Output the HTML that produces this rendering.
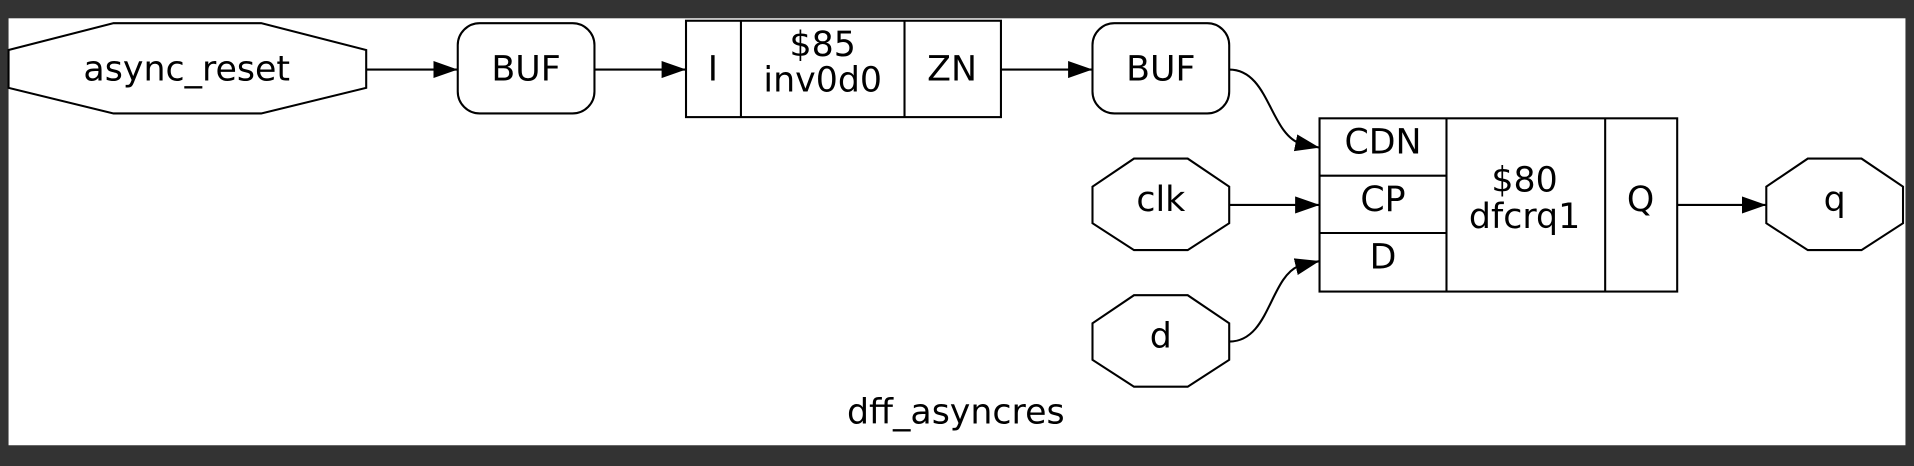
<!DOCTYPE html>
<html><head><style>html,body{margin:0;padding:0;background:#333;}svg{display:block}</style></head><body>
<svg width="1914" height="466" viewBox="0 0 1568 382" preserveAspectRatio="none" xmlns="http://www.w3.org/2000/svg">
<defs>
<marker id="b" markerWidth="20" markerHeight="14" refX="20" refY="7" orient="auto" markerUnits="userSpaceOnUse"><path d="M0,0 L20,7 L0,14 z" fill="#000"/></marker></defs>
<rect x="7" y="15" width="1554" height="350" fill="#fff"/>
<g fill="none" stroke="#000" stroke-width="1.7">
<polygon points="7,41 93,19 214,19 300,41 300,72 214,93 93,93 7,72" fill="#fff"/>
<rect x="375" y="19" width="112" height="74" rx="18" fill="#fff"/>
<rect x="562" y="17" width="258" height="79" fill="#fff"/>
<line x1="607" y1="17" x2="607" y2="96"/><line x1="741" y1="17" x2="741" y2="96"/>
<rect x="895" y="19" width="112" height="74" rx="18" fill="#fff"/>
<rect x="1081" y="97" width="293" height="142" fill="#fff"/>
<line x1="1185" y1="97" x2="1185" y2="239"/><line x1="1315" y1="97" x2="1315" y2="239"/>
<line x1="1081" y1="144" x2="1185" y2="144"/><line x1="1081" y1="191" x2="1185" y2="191"/>
<polygon points="929,130 973,130 1007,153 1007,183 973,205 929,205 895,183 895,153" fill="#fff"/>
<polygon points="929,242 973,242 1007,265 1007,295 973,317 929,317 895,295 895,265" fill="#fff"/>
<polygon points="1481,130 1525,130 1559,153 1559,183 1525,205 1481,205 1447,183 1447,153" fill="#fff"/>
<path d="M300,57 L375,57" marker-end="url(#b)"/>
<path d="M487,57 L562,57" marker-end="url(#b)"/>
<path d="M820,57 L895,57" marker-end="url(#b)"/>
<path d="M1007,168 L1081,168" marker-end="url(#b)"/>
<path d="M1374,168 L1447,168" marker-end="url(#b)"/>
<path d="M1007,57 C1040,57 1040,110 1066,118 L1081,121" marker-end="url(#b)"/>
<path d="M1007,280 C1040,280 1040,228 1064,218 L1081,214" marker-end="url(#b)"/>
</g>
<g font-family="DejaVu Sans, Liberation Sans, sans-serif" font-size="28.5" text-anchor="middle" fill="#000">
<text x="153" y="66">async_reset</text>
<text x="431" y="66">BUF</text>
<text x="584" y="66">I</text>
<text x="674" y="46">$85</text>
<text x="674" y="75">inv0d0</text>
<text x="780" y="66">ZN</text>
<text x="951" y="66">BUF</text>
<text x="1133" y="126">CDN</text>
<text x="1133" y="173">CP</text>
<text x="1133" y="220">D</text>
<text x="1249" y="157">$80</text>
<text x="1249" y="187">dfcrq1</text>
<text x="1344" y="173">Q</text>
<text x="951" y="173">clk</text>
<text x="951" y="285">d</text>
<text x="1503" y="173">q</text>
<text x="783" y="347">dff_asyncres</text>
</g>
</svg>
</body></html>
